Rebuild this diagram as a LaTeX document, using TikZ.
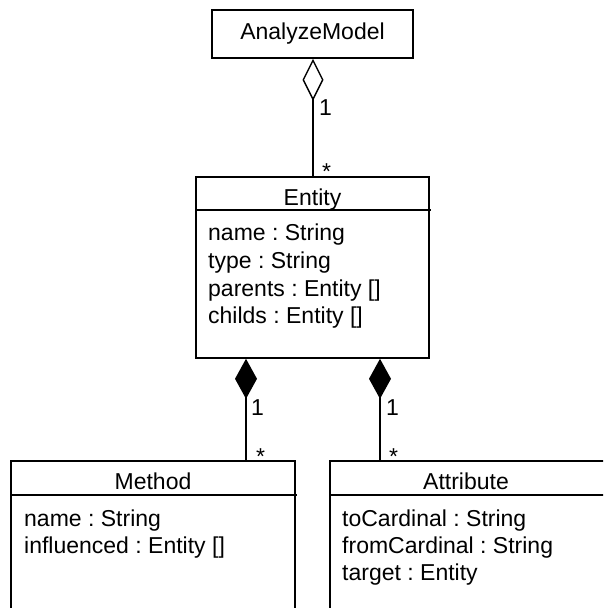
\documentclass[tikz,border=0pt]{standalone}
\usepackage{fontspec}
\setmainfont{Liberation Sans}
\frenchspacing
\usetikzlibrary{arrows.meta}
\begin{document}
\begin{tikzpicture}[x=1pt,y=-1pt,
  box/.style={draw,line width=1.6pt,inner sep=0pt,fill=white},
  txt/.style={inner sep=0pt,anchor=base west,font=\fontsize{23}{27}\selectfont},
  ttl/.style={inner sep=0pt,anchor=base,font=\fontsize{23}{27}\selectfont},
  conn/.style={line width=1.6pt},
  agg/.style={conn,{Diamond[open,length=42pt,width=21pt,line width=1.4pt]}-},
  comp/.style={conn,{Diamond[length=40pt,width=22pt]}-}]
\useasboundingbox (0,0) rectangle (603,608);
\clip (0,0) rectangle (603,608);
\fill[white] (0,0) rectangle (603,608);
% boxes
\node[box,minimum width=201pt,minimum height=48pt] (am) at (312.5,34) {};
\node[ttl] (amt) at (312.5,39) {AnalyzeModel};
\node[box,minimum width=233pt,minimum height=181pt] (ent) at (312.5,267.5) {};
\coordinate (enthr) at (431,210);
\draw[conn] (ent.west |- enthr) -- (enthr);
\node[ttl] (entt) at (312.5,205) {Entity};
\node[txt] (e1) at (208,240) {name : String};
\node[txt] (e2) at (208,268) {type : String};
\node[txt] (e3) at (208,296) {parents : Entity []};
\node[txt] (e4) at (208,323) {childs : Entity []};
\node[box,minimum width=284pt,minimum height=200pt] (met) at (153,561) {};
\coordinate (methr) at (297,495);
\draw[conn] (met.west |- methr) -- (methr);
\node[ttl] (mett) at (153,489) {Method};
\node[txt] (m1) at (24,526) {name : String};
\node[txt] (m2) at (24,553) {influenced : Entity []};
\node[box,minimum width=300pt,minimum height=200pt] (att) at (480,561) {};
\coordinate (atthr) at (640,495);
\draw[conn] (att.west |- atthr) -- (atthr);
\node[ttl] (attt) at (466,489) {Attribute};
\node[txt] (a1) at (342,526) {toCardinal : String};
\node[txt] (a2) at (342,553) {fromCardinal : String};
\node[txt] (a3) at (342,580) {target : Entity};
% connectors
\coordinate (ca) at (313,0);
\draw[agg] (am.south -| ca) -- (ent.north -| ca);
\coordinate (cl) at (246,0);
\coordinate (cr) at (380,0);
\draw[comp] (ent.south -| cl) -- (met.north -| cl);
\draw[comp] (ent.south -| cr) -- (att.north -| cr);
% multiplicities
\node[txt] (l1) at (319,115) {1};
\node[txt] (l2) at (322,179) {*};
\node[txt] (l3) at (251,415) {1};
\node[txt] (l4) at (256,464) {*};
\node[txt] (l5) at (386,415) {1};
\node[txt] (l6) at (389,464) {*};
\end{tikzpicture}
\end{document}
